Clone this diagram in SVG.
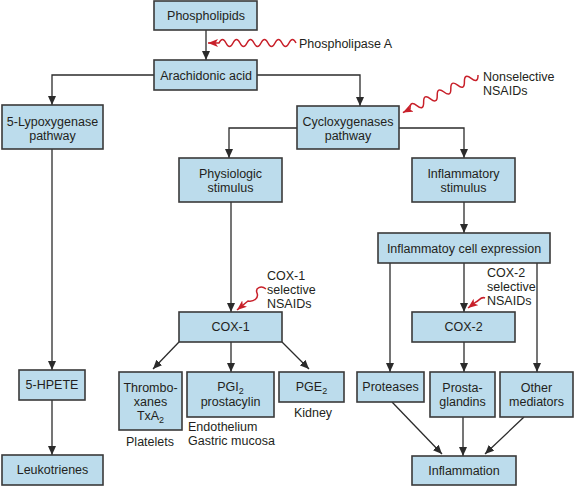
<svg xmlns="http://www.w3.org/2000/svg" width="575" height="486" viewBox="0 0 575 486">
<style>
.box{fill:#bcdcec;stroke:#3a3a3a;stroke-width:1.6}
text{font-family:"Liberation Sans",Arial,sans-serif;font-size:12.5px;fill:#231f20}
.c{text-anchor:middle}
.ln{fill:none;stroke:#2b2b2b;stroke-width:1.3}
.red{fill:none;stroke:#c8202a;stroke-width:1.5}
</style>
<defs>
<marker id="ah" markerUnits="userSpaceOnUse" markerWidth="10" markerHeight="8" refX="9" refY="4" orient="auto">
<path d="M0,0 L9,4 L0,8 z" fill="#2b2b2b"/>
</marker>
<marker id="rh" markerUnits="userSpaceOnUse" markerWidth="11" markerHeight="9" refX="10" refY="4" orient="auto">
<path d="M0,0 L10,4 L0,8 L2.5,4 z" fill="#c8202a"/>
</marker>
</defs>
<rect width="575" height="486" fill="#fff"/>
<g id="connectors">
<path class="ln" marker-end="url(#ah)" d="M206,30 V60"/>
<path class="ln" marker-end="url(#ah)" d="M154,75 H52 V105"/>
<path class="ln" marker-end="url(#ah)" d="M257,75 H360 V106"/>
<path class="ln" marker-end="url(#ah)" d="M297,128 H229 V158"/>
<path class="ln" marker-end="url(#ah)" d="M399,128 H464 V158"/>
<path class="ln" marker-end="url(#ah)" d="M231,202 V312"/>
<path class="ln" marker-end="url(#ah)" d="M464,202 V233"/>
<path class="ln" marker-end="url(#ah)" d="M390,263 V372"/>
<path class="ln" marker-end="url(#ah)" d="M464,263 V312"/>
<path class="ln" marker-end="url(#ah)" d="M537,263 V372"/>
<path class="ln" marker-end="url(#ah)" d="M52,149 V370"/>
<path class="ln" marker-end="url(#ah)" d="M52,400 V455"/>
<path class="ln" marker-end="url(#ah)" d="M179,342 L153,369"/>
<path class="ln" marker-end="url(#ah)" d="M231,342 V372"/>
<path class="ln" marker-end="url(#ah)" d="M282,342 L309,369"/>
<path class="ln" marker-end="url(#ah)" d="M464,342 V372"/>
<path class="ln" marker-end="url(#ah)" d="M392,402 L442,454"/>
<path class="ln" marker-end="url(#ah)" d="M463,417 V456"/>
<path class="ln" marker-end="url(#ah)" d="M524,417 L485,454"/>
<path class="red" marker-end="url(#rh)" d="M296,43 q-3.5,-7 -7,0 t-7,0 t-7,0 t-7,0 t-7,0 t-7,0 t-7,0 t-7,0 t-7,0 t-7,0 t-7,0 L208,43"/>
<path class="red" marker-end="url(#rh)" transform="translate(478,75) rotate(153.4)" d="M0,0 q3.8,-8 7.6,0 t7.6,0 t7.6,0 t7.6,0 t7.6,0 t7.6,0 t7.6,0 t7.6,0 t7.6,0 t7.6,0 L84,0"/>
<path class="red" marker-end="url(#rh)" d="M266,289 C261,285 255,288 257,293 C259,298 254,302 248,301 L237,310"/>
<path class="red" marker-end="url(#rh)" d="M485,298 C481,296 479,301 476,302 L468,308"/>
</g>
<g id="phospholipids"><rect class="box" x="154" y="1" width="103" height="29"/><text class="c" x="206" y="20">Phospholipids</text></g>
<g id="arachidonic"><rect class="box" x="154" y="60" width="103" height="30"/><text class="c" x="206" y="79.5">Arachidonic acid</text></g>
<g id="lypox"><rect class="box" x="2" y="105" width="101" height="44"/><text class="c" x="52.5" y="126">5-Lypoxygenase</text><text class="c" x="52.5" y="140">pathway</text></g>
<g id="cyclox"><rect class="box" x="297" y="106" width="102" height="43"/><text class="c" x="348" y="126">Cycloxygenases</text><text class="c" x="348" y="140">pathway</text></g>
<g id="physiologic"><rect class="box" x="179" y="158" width="103" height="44"/><text class="c" x="230.5" y="178">Physiologic</text><text class="c" x="230.5" y="192">stimulus</text></g>
<g id="inflamstim"><rect class="box" x="412" y="158" width="103" height="44"/><text class="c" x="463.5" y="178">Inflammatory</text><text class="c" x="463.5" y="192">stimulus</text></g>
<g id="cellexpr"><rect class="box" x="378" y="233" width="172" height="30"/><text class="c" x="464" y="252.5">Inflammatoy cell expression</text></g>
<g id="cox1"><rect class="box" x="179" y="312" width="103" height="30"/><text class="c" x="230.5" y="331">COX-1</text></g>
<g id="cox2"><rect class="box" x="412" y="312" width="103" height="30"/><text class="c" x="463.5" y="331">COX-2</text></g>
<g id="thrombo"><rect class="box" x="119" y="372" width="63" height="58"/><text class="c" x="150.5" y="392">Thrombo-</text><text class="c" x="150.5" y="406">xanes</text><text class="c" x="150.5" y="420">TxA<tspan font-size="9" dy="3">2</tspan></text></g>
<g id="pgi2"><rect class="box" x="187" y="372" width="87" height="45"/><text class="c" x="230.5" y="391">PGI<tspan font-size="9" dy="3">2</tspan></text><text class="c" x="230.5" y="406">prostacylin</text></g>
<g id="pge2"><rect class="box" x="279" y="372" width="65" height="30"/><text class="c" x="311.5" y="391">PGE<tspan font-size="9" dy="3">2</tspan></text></g>
<g id="proteases"><rect class="box" x="357" y="372" width="67" height="30"/><text class="c" x="390.5" y="391">Proteases</text></g>
<g id="prosta"><rect class="box" x="430" y="372" width="65" height="45"/><text class="c" x="462.5" y="392">Prosta-</text><text class="c" x="462.5" y="406">glandins</text></g>
<g id="other"><rect class="box" x="500" y="372" width="73" height="45"/><text class="c" x="536.5" y="392">Other</text><text class="c" x="536.5" y="406">mediators</text></g>
<g id="inflammation"><rect class="box" x="412" y="456" width="104" height="29"/><text class="c" x="464" y="475">Inflammation</text></g>
<g id="hpete"><rect class="box" x="19" y="370" width="66" height="30"/><text class="c" x="52" y="389">5-HPETE</text></g>
<g id="leukotrienes"><rect class="box" x="2" y="455" width="101" height="30"/><text class="c" x="52.5" y="474">Leukotrienes</text></g>
<g id="labels">
<text x="299" y="48">Phospholipase A</text>
<text x="483" y="81">Nonselective</text><text x="483" y="95">NSAIDs</text>
<text x="267" y="280">COX-1</text><text x="267" y="294">selective</text><text x="267" y="308">NSAIDs</text>
<text x="487" y="277">COX-2</text><text x="487" y="291">selective</text><text x="487" y="305">NSAIDs</text>
<text class="c" x="150" y="446">Platelets</text>
<text x="188" y="431">Endothelium</text><text x="188" y="445">Gastric mucosa</text>
<text class="c" x="313" y="417">Kidney</text>
</g>
</svg>
